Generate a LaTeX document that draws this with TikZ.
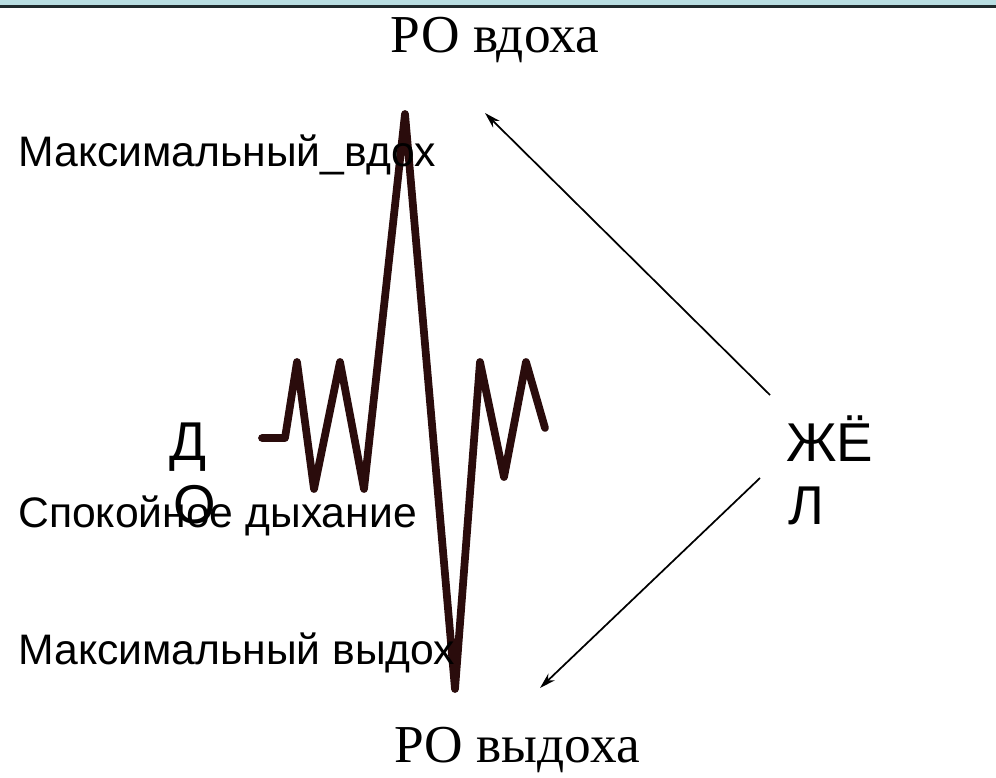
\documentclass[tikz,border=0pt]{standalone}
\usepackage{fontspec}
\setmainfont{Liberation Serif}
\setsansfont{Liberation Sans}
\usetikzlibrary{arrows.meta}
\definecolor{bandblue}{HTML}{B8DEE2}
\definecolor{bandline}{HTML}{1E2A2C}
\definecolor{wave}{HTML}{2A0C0C}
\tikzset{
  serlabel/.style={inner sep=0pt, anchor=base, font=\fontsize{40}{44}\selectfont\rmfamily},
  sanslabel/.style={inner sep=0pt, anchor=base west, font=\fontsize{32}{38}\selectfont\sffamily},
  biglabel/.style={inner sep=0pt, anchor=base west, font=\fontsize{41}{47}\selectfont\sffamily},
  pointer/.style={line width=1.3pt, -{Stealth[length=12pt,width=7pt]}},
  wavestyle/.style={wave, line width=5.8pt, line join=round, line cap=round}
}
\begin{document}
\begin{tikzpicture}[x=0.75pt,y=-0.75pt]
\useasboundingbox (0,0) rectangle (996,778);
\fill[white] (0,0) rectangle (996,778);
% top band
\fill[bandblue] (0,0) rectangle (996,5);
\fill[bandline] (0,5) rectangle (996,8);

% waveform
\draw[wavestyle] (262,438) -- (285,438) -- (297,362) -- (314,489) -- (340,362) -- (364,489)
  -- (405,114) -- (455,689) -- (480,362) -- (504,477) -- (526,362) -- (545,428);

% titles
\node[serlabel] (rovd) at (495,52) {РО вдоха};
\node[serlabel] (rovyd) at (517,762) {РО выдоха};

% side labels
\node[sanslabel] (maxin) at (18,166) {Максимальный\_вдох};
\node[sanslabel] (calm) at (18,527) {Спокойное дыхание};
\node[sanslabel] (maxout) at (18,664) {Максимальный выдох};
\node[biglabel] (do1) at (169,460) {Д};
\node[biglabel] (do2) at (173,523) {О};
\node[biglabel] (zhel1) at (786,461) {ЖЁ};
\node[biglabel] (zhel2) at (788,524) {Л};

% arrows
\coordinate (a1s) at (770,395);
\coordinate (a1e) at (485,113);
\coordinate (a2s) at (760,478);
\coordinate (a2e) at (540,688);
\draw[pointer] (a1s) -- (a1e);
\draw[pointer] (a2s) -- (a2e);
\end{tikzpicture}
\end{document}
